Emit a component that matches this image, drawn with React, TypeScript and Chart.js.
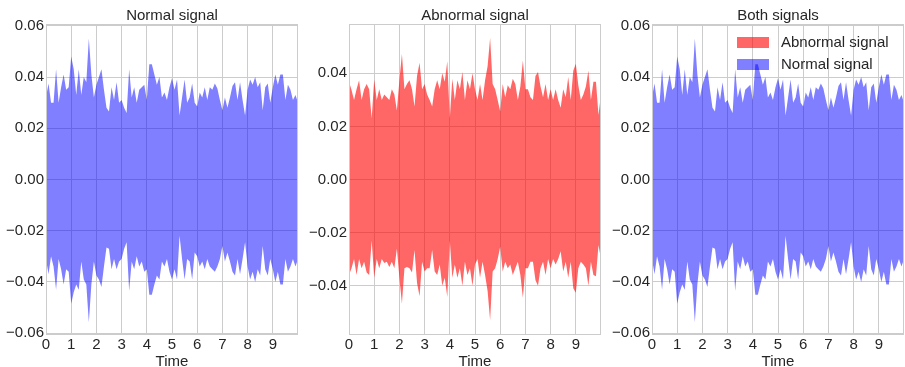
import React, { useEffect, useRef } from 'react';
import { Chart, registerables } from 'chart.js';

Chart.register(...registerables);

// ---- data ----
const TIME = [
  0, 0.1, 0.2, 0.3, 0.4, 0.5, 0.6, 0.7, 0.8, 0.9,
  1, 1.1, 1.2, 1.3, 1.4, 1.5, 1.6, 1.7, 1.8, 1.9,
  2, 2.1, 2.2, 2.3, 2.4, 2.5, 2.6, 2.7, 2.8, 2.9,
  3, 3.1, 3.2, 3.3, 3.4, 3.5, 3.6, 3.7, 3.8, 3.9,
  4, 4.1, 4.2, 4.3, 4.4, 4.5, 4.6, 4.7, 4.8, 4.9,
  5, 5.1, 5.2, 5.3, 5.4, 5.5, 5.6, 5.7, 5.8, 5.9,
  6, 6.1, 6.2, 6.3, 6.4, 6.5, 6.6, 6.7, 6.8, 6.9,
  7, 7.1, 7.2, 7.3, 7.4, 7.5, 7.6, 7.7, 7.8, 7.9,
  8, 8.1, 8.2, 8.3, 8.4, 8.5, 8.6, 8.7, 8.8, 8.9,
  9, 9.1, 9.2, 9.3, 9.4, 9.5, 9.6, 9.7, 9.8, 9.9,
  10,
];

const NORMAL_UPPER = [
  0.032, 0.0375, 0.030, 0.030, 0.043, 0.030, 0.036, 0.041, 0.035, 0.036,
  0.048, 0.043, 0.033, 0.043, 0.033, 0.040, 0.038, 0.055, 0.041, 0.032,
  0.037, 0.040, 0.043, 0.035, 0.028, 0.0265, 0.036, 0.031, 0.038, 0.030,
  0.031, 0.028, 0.026, 0.043, 0.032, 0.036, 0.030, 0.035, 0.036, 0.037,
  0.031, 0.045, 0.045, 0.041, 0.037, 0.040, 0.032, 0.034, 0.031, 0.036,
  0.0395, 0.035, 0.039, 0.025, 0.032, 0.039, 0.030, 0.032, 0.0375, 0.030,
  0.0285, 0.034, 0.032, 0.036, 0.031, 0.036, 0.035, 0.0375, 0.0355, 0.031,
  0.027, 0.032, 0.028, 0.032, 0.0365, 0.038, 0.031, 0.038, 0.031, 0.025,
  0.035, 0.039, 0.037, 0.040, 0.036, 0.038, 0.027, 0.036, 0.0375, 0.030,
  0.036, 0.041, 0.037, 0.041, 0.041, 0.031, 0.037, 0.035, 0.031, 0.033,
  0.030,
];

const NORMAL_LOWER = [
  -0.031, -0.037, -0.030, -0.034, -0.043, -0.031, -0.035, -0.041, -0.035, -0.036,
  -0.0485, -0.044, -0.041, -0.043, -0.032, -0.039, -0.041, -0.0557, -0.041, -0.032,
  -0.0375, -0.039, -0.042, -0.034, -0.0265, -0.027, -0.035, -0.031, -0.035, -0.032,
  -0.031, -0.027, -0.0245, -0.0435, -0.032, -0.035, -0.030, -0.034, -0.032, -0.036,
  -0.035, -0.045, -0.045, -0.041, -0.0375, -0.039, -0.032, -0.034, -0.031, -0.036,
  -0.039, -0.035, -0.039, -0.022, -0.031, -0.039, -0.031, -0.032, -0.039, -0.0285,
  -0.030, -0.034, -0.032, -0.035, -0.031, -0.034, -0.035, -0.036, -0.034, -0.031,
  -0.026, -0.032, -0.0285, -0.032, -0.036, -0.0375, -0.031, -0.037, -0.031, -0.0245,
  -0.034, -0.039, -0.036, -0.040, -0.035, -0.0375, -0.026, -0.035, -0.0375, -0.031,
  -0.035, -0.040, -0.036, -0.041, -0.041, -0.031, -0.036, -0.034, -0.031, -0.034,
  -0.031,
];

const ABNORMAL_UPPER = [
  0.0368, 0.0337, 0.030, 0.034, 0.0374, 0.030, 0.034, 0.036, 0.034, 0.023,
  0.0377, 0.030, 0.034, 0.030, 0.032, 0.031, 0.030, 0.034, 0.032, 0.026,
  0.0374, 0.0473, 0.034, 0.036, 0.0374, 0.034, 0.0275, 0.039, 0.044, 0.034,
  0.036, 0.032, 0.030, 0.0275, 0.034, 0.0374, 0.034, 0.040, 0.0368, 0.0446,
  0.023, 0.038, 0.030, 0.0374, 0.034, 0.0405, 0.030, 0.0374, 0.034, 0.040,
  0.034, 0.030, 0.036, 0.030, 0.0374, 0.0427, 0.0533, 0.036, 0.034, 0.030,
  0.0256, 0.036, 0.031, 0.0355, 0.034, 0.038, 0.036, 0.030, 0.035, 0.0448,
  0.034, 0.034, 0.031, 0.030, 0.039, 0.0405, 0.035, 0.031, 0.036, 0.030,
  0.034, 0.030, 0.034, 0.030, 0.027, 0.034, 0.031, 0.0386, 0.030, 0.041,
  0.0436, 0.0355, 0.030, 0.032, 0.035, 0.041, 0.030, 0.0368, 0.0368, 0.0243,
  0.032,
];

const ABNORMAL_LOWER = [
  -0.036, -0.0334, -0.030, -0.036, -0.030, -0.0334, -0.031, -0.035, -0.036, -0.023,
  -0.037, -0.030, -0.0334, -0.030, -0.0315, -0.031, -0.033, -0.031, -0.0334, -0.026,
  -0.037, -0.0468, -0.0334, -0.033, -0.0334, -0.035, -0.0266, -0.039, -0.044, -0.031,
  -0.0347, -0.0334, -0.0334, -0.0266, -0.0347, -0.036, -0.032, -0.040, -0.037, -0.0443,
  -0.023, -0.037, -0.032, -0.037, -0.0334, -0.040, -0.031, -0.036, -0.0334, -0.040,
  -0.032, -0.030, -0.037, -0.031, -0.036, -0.042, -0.053, -0.0347, -0.0334, -0.030,
  -0.0253, -0.0347, -0.031, -0.0334, -0.032, -0.036, -0.0334, -0.031, -0.036, -0.0446,
  -0.0334, -0.0334, -0.031, -0.031, -0.038, -0.040, -0.0334, -0.031, -0.036, -0.030,
  -0.0334, -0.030, -0.032, -0.030, -0.027, -0.0347, -0.031, -0.037, -0.031, -0.041,
  -0.0427, -0.0334, -0.031, -0.032, -0.0334, -0.040, -0.031, -0.036, -0.0365, -0.0247,
  -0.030,
];

const X_TICKS = [0, 1, 2, 3, 4, 5, 6, 7, 8, 9];
const Y_TICKS_WIDE = [-0.06, -0.04, -0.02, 0, 0.02, 0.04, 0.06];
const Y_TICKS_NARROW = [-0.04, -0.02, 0, 0.02, 0.04];
const TITLES = ['Normal signal', 'Abnormal signal', 'Both signals'];
const SERIES_LABELS = ['Normal signal', 'Abnormal signal'];
const X_TITLE = 'Time';

// ---- styles ----
const FONT = "'Liberation Sans', Arial, Helvetica, sans-serif";
const TEXT = '#262626';
const GRID = '#cccccc';
const BLUE = 'rgba(0, 0, 255, 0.5)';
const RED = 'rgba(255, 0, 0, 0.6)';

Chart.defaults.font.family = FONT;
Chart.defaults.font.size = 15;
Chart.defaults.color = TEXT;

const NORMAL = { label: SERIES_LABELS[0], upper: NORMAL_UPPER, lower: NORMAL_LOWER, color: BLUE };
const ABNORMAL = { label: SERIES_LABELS[1], upper: ABNORMAL_UPPER, lower: ABNORMAL_LOWER, color: RED };

const PANELS = [
  { left: 0, width: 303, axisWidth: 46, padRight: 5, title: TITLES[0], series: [NORMAL], legend: null, lim: 0.0607, yTicks: Y_TICKS_WIDE },
  { left: 303, width: 301, axisWidth: 46, padRight: 3, title: TITLES[1], series: [ABNORMAL], legend: null, lim: 0.0586, yTicks: Y_TICKS_NARROW },
  { left: 604, width: 301, axisWidth: 48, padRight: 1, title: TITLES[2], series: [NORMAL], legend: [ABNORMAL, NORMAL], lim: 0.0607, yTicks: Y_TICKS_WIDE },
];

const fmtY = (v: number) => {
  if (Math.abs(v) < 1e-9) return '0.00';
  return (v < 0 ? '\u2212' : '') + Math.abs(v).toFixed(2);
};

const decor = {
  id: 'decor',
  afterDatasetsDraw(chart: any, _args: any, opts: any) {
    const { ctx, chartArea: a } = chart;
    ctx.save();
    ctx.strokeStyle = GRID;
    ctx.lineWidth = 1;
    ctx.strokeRect(Math.round(a.left) + 0.5, Math.round(a.top) + 0.5, Math.round(a.right - a.left) - 1, Math.round(a.bottom - a.top) - 1);
    ctx.fillStyle = TEXT;
    ctx.font = `15px ${FONT}`;
    ctx.textAlign = 'center';
    ctx.textBaseline = 'alphabetic';
    ctx.fillText(opts.title, (a.left + a.right) / 2, a.top - 4);
    if (opts.legend) {
      opts.legend.forEach((item: any, i: number) => {
        const y0 = a.top + 13 + 22 * i;
        ctx.fillStyle = item.color;
        ctx.fillRect(a.right - 167, y0, 32, 11);
        ctx.fillStyle = TEXT;
        ctx.textAlign = 'left';
        ctx.textBaseline = 'middle';
        ctx.fillText(item.label, a.right - 123, y0 + 6);
      });
    }
    ctx.restore();
  },
};

function makeConfig(p: any): any {
  const datasets: any[] = [];
  p.series.forEach((s: any) => {
    datasets.push({
      label: s.label,
      data: TIME.map((t, i) => ({ x: t, y: s.upper[i] })),
      fill: '+1',
      backgroundColor: s.color,
      borderColor: 'rgba(0,0,0,0)',
      borderWidth: 0,
      pointRadius: 0,
      tension: 0,
    });
    datasets.push({
      label: s.label + ' (lower)',
      data: TIME.map((t, i) => ({ x: t, y: s.lower[i] })),
      fill: false,
      backgroundColor: s.color,
      borderColor: 'rgba(0,0,0,0)',
      borderWidth: 0,
      pointRadius: 0,
      tension: 0,
    });
  });
  return {
    type: 'line',
    data: { datasets },
    options: {
      responsive: false,
      animation: false,
      events: [],
      layout: { padding: { top: 24, right: p.padRight, bottom: 0, left: 0 } },
      plugins: {
        legend: { display: false },
        tooltip: { enabled: false },
        decor: { title: p.title, legend: p.legend },
      },
      scales: {
        x: {
          type: 'linear',
          min: 0,
          max: 10,
          afterBuildTicks: (s: any) => { s.ticks = X_TICKS.map((v) => ({ value: v })); },
          afterFit: (s: any) => { s.height = 32; },
          grid: { color: GRID, lineWidth: 1, drawTicks: false },
          border: { display: false },
          ticks: { padding: 1, color: TEXT, maxRotation: 0, autoSkip: false, callback: (v: any) => String(v) },
          title: { display: true, text: X_TITLE, color: TEXT, font: { size: 15, lineHeight: 1 }, padding: { top: 0, bottom: -2 } },
        },
        y: {
          type: 'linear',
          min: -p.lim,
          max: p.lim,
          afterBuildTicks: (s: any) => { s.ticks = p.yTicks.map((v: number) => ({ value: v })); },
          afterFit: (s: any) => { s.width = p.axisWidth; },
          grid: { color: GRID, lineWidth: 1, drawTicks: false },
          border: { display: false },
          ticks: { padding: 2, color: TEXT, autoSkip: false, callback: (v: any) => fmtY(Number(v)) },
        },
      },
    },
    plugins: [decor],
  };
}

export default function App() {
  const refs = [useRef<HTMLCanvasElement>(null), useRef<HTMLCanvasElement>(null), useRef<HTMLCanvasElement>(null)];
  useEffect(() => {
    const charts = PANELS.map((p, i) => new Chart(refs[i].current as HTMLCanvasElement, makeConfig(p)));
    return () => charts.forEach((c) => c.destroy());
  }, []);
  return (
    <div>
      {PANELS.map((p, i) => (
        <canvas
          key={i}
          ref={refs[i]}
          width={p.width}
          height={367}
          style={{ position: 'absolute', left: p.left, top: 0, width: p.width, height: 367 }}
        />
      ))}
    </div>
  );
}
